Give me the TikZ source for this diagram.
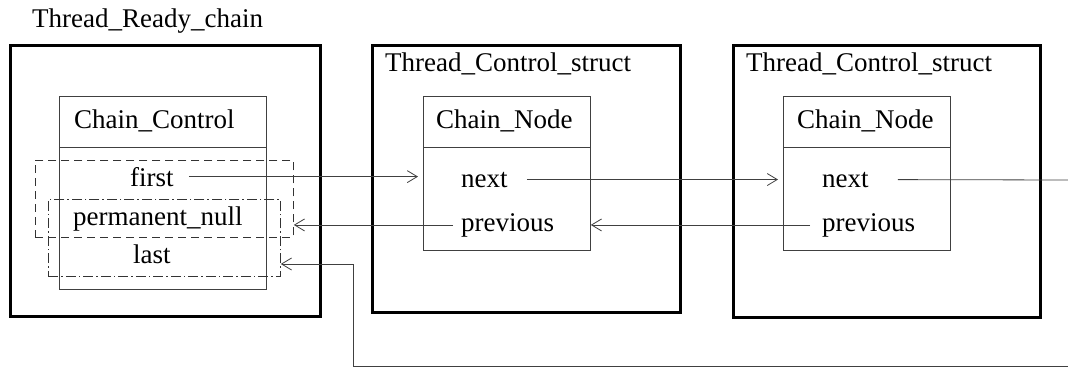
\documentclass[tikz,border=0pt]{standalone}
\usepackage{fontspec}
\setmainfont{Liberation Serif}
\usetikzlibrary{arrows.meta}
\begin{document}
\begin{tikzpicture}[x=1pt,y=-1pt,
  lbl/.style={font=\fontsize{27}{32}\selectfont, inner sep=0pt, anchor=base west},
  outerbox/.style={draw=black, line width=2.6pt, anchor=north west, inner sep=0pt},
  innerbox/.style={draw=black!75, line width=0.8pt, anchor=north west, inner sep=0pt},
  dashbox/.style={draw=black!80, line width=0.8pt, dash pattern=on 8pt off 5pt, anchor=north west, inner sep=0pt},
  dotbox/.style={draw=black!80, line width=0.8pt, dash pattern=on 10pt off 3pt on 1.5pt off 3pt, anchor=north west, inner sep=0pt},
  conn/.style={draw=black!75, line width=0.8pt},
  arr/.style={conn, -{Straight Barb[length=10pt,width=12pt]}}]
\useasboundingbox (0,0) rectangle (1068,367);
% outer boxes
\node[outerbox, minimum width=310, minimum height=271] (ready) at (9,44) {};
\node[outerbox, minimum width=308, minimum height=267] (tcs1) at (371,44) {};
\node[outerbox, line width=3.4pt, minimum width=307, minimum height=272] (tcs2) at (732,44) {};
\node[lbl] (readyt) at (32,27) {Thread\_Ready\_chain};
\node[lbl] (tcs1t) at (385,71) {Thread\_Control\_struct};
\node[lbl] (tcs2t) at (746,71) {Thread\_Control\_struct};
% chain control
\node[innerbox, minimum width=207, minimum height=193] (cc) at (59,96) {};
\draw[innerbox] (cc.west |- 0,147) -- (cc.east |- 0,147);
\node[lbl] (cct) at (74,128) {Chain\_Control};
\node[lbl] (first) at (130,186) {first};
\node[lbl] (pnull) at (73,225) {permanent\_null};
\node[lbl] (last) at (133,263) {last};
\node[dashbox, minimum width=258, minimum height=77] (dsh) at (35,160) {};
\node[dotbox, minimum width=232, minimum height=77] (dd) at (48,199) {};
% chain nodes
\node[innerbox, minimum width=167, minimum height=154] (cn1) at (423,96) {};
\draw[innerbox] (cn1.west |- 0,147) -- (cn1.east |- 0,147);
\node[lbl] (cn1t) at (436,128) {Chain\_Node};
\node[lbl] (next1) at (461,187) {next};
\node[lbl] (prev1) at (461,231) {previous};
\node[innerbox, minimum width=167, minimum height=154] (cn2) at (783,96) {};
\draw[innerbox] (cn2.west |- 0,147) -- (cn2.east |- 0,147);
\node[lbl] (cn2t) at (797,128) {Chain\_Node};
\node[lbl] (next2) at (822,187) {next};
\node[lbl] (prev2) at (822,231) {previous};
% connectors
\coordinate (nextout) at (1068,180);
\coordinate (lastin) at (1068,366);
\coordinate (bend) at (353,366);
\coordinate (bendup) at (353,264);
\draw[arr, shorten <=15pt, shorten >=5pt] (first.east) -- (first.east -| cn1.west);
\draw[arr, shorten <=19pt, shorten >=5pt] (next1.east) -- (next1.east -| cn2.west);
\draw[conn, shorten <=29pt] (next2.east) -- (nextout);
\draw[arr, shorten <=8pt] (prev1.west) -- (prev1.west -| dsh.east);
\draw[arr, shorten <=12pt] (prev2.west) -- (prev2.west -| cn1.east);
\draw[arr] (lastin) -- (bend) -- (bendup) -- (bendup -| dd.east);
\end{tikzpicture}
\end{document}
